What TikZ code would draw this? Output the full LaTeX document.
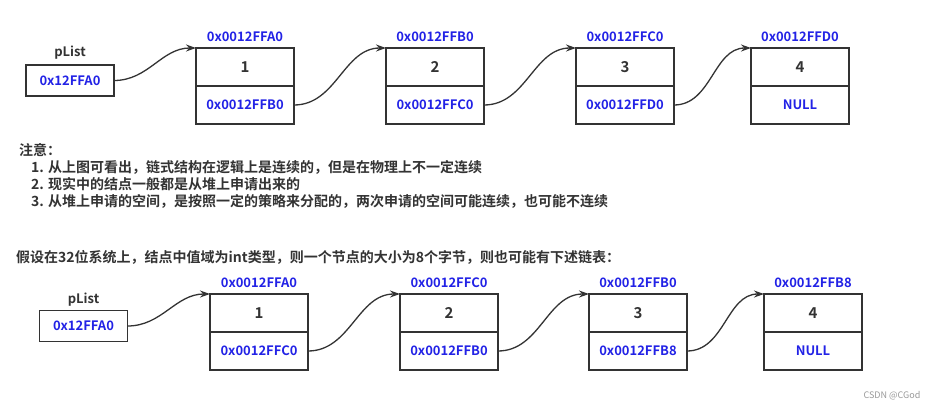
\documentclass[tikz,border=0pt]{standalone}
\usepackage{fontspec}
\setmainfont{Noto Sans CJK SC}[BoldFont=* Bold]
\usepackage{xcolor}
\usepackage{tikz}
\usetikzlibrary{arrows.meta, positioning}
\definecolor{azul}{HTML}{2222E6}
\definecolor{gris}{HTML}{333333}
\definecolor{grisclaro}{HTML}{9A9A9A}
\tikzset{
  celda/.style={rectangle, draw=gris, line width=1.5pt, outer sep=0pt,
    minimum width=98pt, minimum height=38pt, text=gris,
    font=\fontsize{15}{17}\selectfont\bfseries},
  caja/.style={rectangle, draw=gris, line width=1.5pt, outer sep=0pt,
    minimum width=88pt, minimum height=31pt, text=azul,
    font=\fontsize{13}{15}\selectfont\bfseries},
  dir/.style={text=azul, font=\fontsize{13}{15}\selectfont\bfseries},
  texto/.style={anchor=west, text=gris, inner sep=0pt,
    font=\fontsize{14}{16}\selectfont\bfseries},
  flecha/.style={-{Stealth[length=10pt, width=7pt]}, gris, line width=1.3pt}
}

\begin{document}
\begin{tikzpicture}[x=1pt, y=-1pt,
  punteros/.style={celda, text=azul, font=\fontsize{13}{15}\selectfont\bfseries},
  nombre/.style={text=gris, font=\fontsize{13}{15}\selectfont\bfseries}]
  \useasboundingbox[fill=white] (0,0) rectangle (945,409);

  % --- Lista de arriba ---
  \node[caja] (lista1) at (70,80.5) {0x12FFA0};
  \node[nombre] (pl1) at (70,53) {pList};
  \foreach \i/\x/\dirn/\sig in {1/245/0x0012FFA0/0x0012FFB0, 2/435/0x0012FFB0/0x0012FFC0,
      3/625/0x0012FFC0/0x0012FFD0, 4/800/0x0012FFD0/NULL} {
    \node[celda] (a\i) at (\x,67) {\i};
    \node[punteros, below=0pt of a\i] (ap\i) {\sig};
    \node[dir] (ad\i) at (\x,37) {\dirn};
  }
  \draw[flecha] (lista1.east) to[out=0, in=180] (a1.north west);
  \foreach \i/\j in {1/2, 2/3, 3/4}
    \draw[flecha] (ap\i.east) to[out=0, in=180] (a\j.north west);

  % Notas
  \node[texto] (nota) at (19,150) {注意：};
  \node[texto] (nota1) at (31,167) {1. 从上图可看出，链式结构在逻辑上是连续的，但是在物理上不一定连续};
  \node[texto] (nota2) at (31,184) {2. 现实中的结点一般都是从堆上申请出来的};
  \node[texto] (nota3) at (31,201) {3. 从堆上申请的空间，是按照一定的策略来分配的，两次申请的空间可能连续，也可能不连续};

  \node[texto] (supuesto) at (16,257) {假设在32位系统上，结点中值域为int类型，则一个节点的大小为8个字节，则也可能有下述链表：};

  % --- Lista de abajo ---
  \node[caja] (lista2) at (83.5,326) {0x12FFA0};
  \node[nombre] (pl2) at (83.5,300) {pList};
  \foreach \i/\x/\dirn/\sig in {1/259/0x0012FFA0/0x0012FFC0, 2/449/0x0012FFC0/0x0012FFB0,
      3/638/0x0012FFB0/0x0012FFB8, 4/813/0x0012FFB8/NULL} {
    \node[celda] (b\i) at (\x,313) {\i};
    \node[punteros, below=0pt of b\i] (bp\i) {\sig};
    \node[dir] (bd\i) at (\x,283) {\dirn};
  }
  \draw[flecha] (lista2.east) to[out=0, in=180] (b1.north west);
  \foreach \i/\j in {1/2, 2/3, 3/4}
    \draw[flecha] (bp\i.east) to[out=0, in=180] (b\j.north west);

  \node[text=grisclaro, font=\fontsize{9}{11}\selectfont] (marca) at (892,396) {CSDN @CGod};
\end{tikzpicture}
\end{document}
